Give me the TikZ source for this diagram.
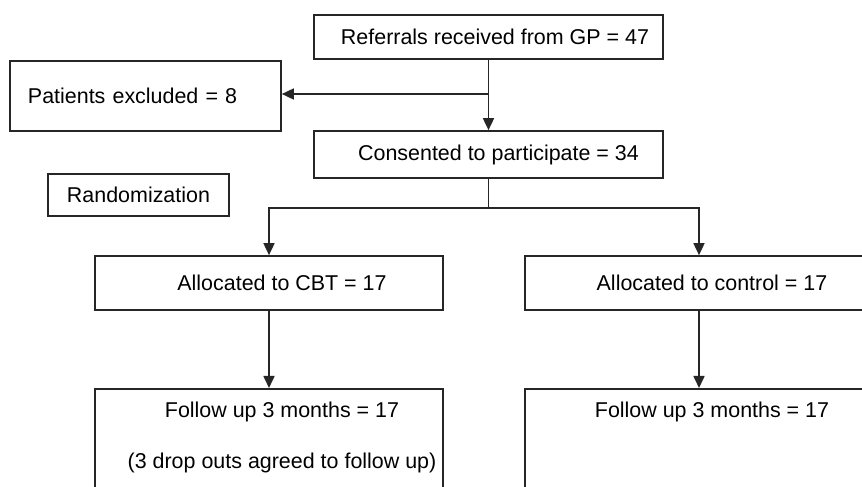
\documentclass[tikz,border=0pt]{standalone}
\usepackage{fontspec}
\setmainfont{Liberation Sans}
\usetikzlibrary{arrows.meta}
\tikzset{
	box/.style={draw=black!85,line width=0.05cm,inner sep=0pt,font=\fontsize{18.3}{22}\selectfont},
	tshift/.style={execute at begin node={\hspace*{#1}}},
	fubox/.style={box,minimum width=10.44cm,align=center,inner ysep=0.39cm,text depth=4cm,anchor=north},
	arr/.style={draw=black!85,line width=0.05cm,-{Triangle[length=0.36cm,width=0.33cm]}}
}
\begin{document}
\begin{tikzpicture}[x=0.03cm,y=-0.03cm]
				\useasboundingbox (0,0) rectangle (862,487);
				\fill[white] (0,0) rectangle (862,487);
				\clip (0,0) rectangle (862,487);
				% top part
				\node[box,tshift=0.39cm,minimum width=10.47cm,minimum height=1.32cm] (ref) at (488.5,37) {Referrals received from GP = 47};
				\node[box,text width=7.05cm,inner xsep=0.54cm,minimum height=2.1cm,align=left] (excl) at (145.5,96) {Patients excluded = 8};
				\node[box,tshift=0.6cm,minimum width=10.47cm,minimum height=1.41cm] (cons) at (488.5,154.5) {Consented to participate = 34};
				\node[box,minimum width=5.43cm,minimum height=1.26cm] (rand) at (138.5,195) {Randomization};
				% the two arms
				\node[box,tshift=0.78cm,minimum width=10.44cm,minimum height=1.62cm] (cbt) at (269,283) {Allocated to CBT = 17};
				\node[box,tshift=0.78cm,minimum width=10.44cm,minimum height=1.62cm] (ctl) at (699,283) {Allocated to control = 17};
				\node[fubox] (fu1) at (269,388) {\hspace*{0.78cm}Follow up 3 months = 17\\[22pt]\hspace*{0.78cm}(3 drop outs agreed to follow up)};
				\node[fubox] (fu2) at (699,388) {\hspace*{0.78cm}Follow up 3 months = 17};
				% connectors
				\coordinate (j1) at (488.5,94);
				\coordinate (split) at (488.5,208);
				\draw[arr] (ref.south) -- (cons.north);
				\draw[arr] (j1) -- (excl.east |- j1);
				\draw[draw=black!85,line width=0.05cm] (cons.south) -- (split);
				\draw[arr] (split) -| (cbt.north);
				\draw[arr] (split) -| (ctl.north);
				\draw[arr] (cbt.south) -- (fu1.north);
				\draw[arr] (ctl.south) -- (fu2.north);
\end{tikzpicture}
\end{document}
